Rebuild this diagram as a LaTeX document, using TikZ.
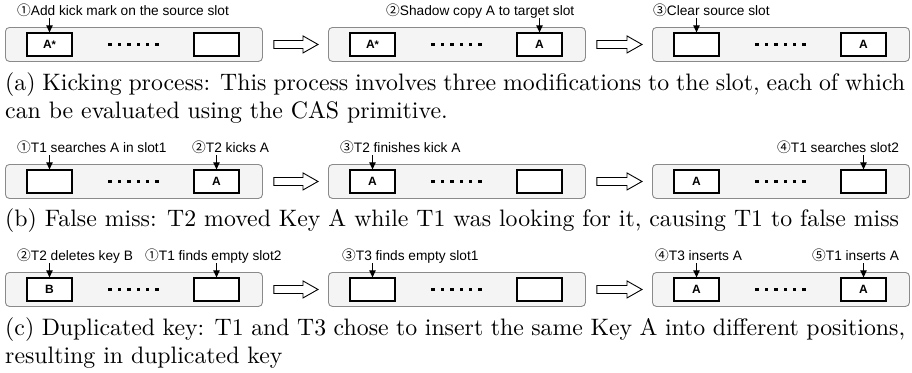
\documentclass[tikz,border=0pt]{standalone}
\usepackage{fontspec}
\usetikzlibrary{arrows.meta,calc}
\newfontfamily\labelfont{Liberation Sans}
\newfontfamily\circfont{Noto Sans CJK SC}
\newfontfamily\capfont{lmroman10-regular}[Extension=.otf]
\definecolor{panelfill}{HTML}{F4F4F4}
\definecolor{panelline}{HTML}{8A8A8A}

\tikzset{
  panel/.style={draw=panelline, fill=panelfill, line width=0.9pt, rounded corners=4pt,
    minimum width=257pt, minimum height=34pt, anchor=north west, inner sep=0pt},
  slotbox/.style={draw=black, fill=white, line width=1.2pt, minimum width=45pt,
    minimum height=23pt, inner sep=0pt, font=\labelfont\bfseries\fontsize{12}{12}\selectfont},
  steplabel/.style={anchor=base west, inner sep=0pt, font=\labelfont\fontsize{13.7}{16}\selectfont},
  pointer/.style={-{Triangle[length=7pt,width=6.5pt]}, line width=1pt},
  hollowarrow/.style={draw=black, fill=white, line width=0.9pt, line join=miter},
  captext/.style={anchor=base west, inner sep=0pt, font=\capfont\fontsize{23.8}{28}\selectfont},
}

% one row of slots: name, left x, top y, text of first slot, text of last slot
\newcommand\slotpanel[5]{%
  \node[panel] (#1) at (#2,#3) {};
  \node[slotbox] (#1-l) at ($(#1.west)+(44.5,0)$) {#4};
  \node[slotbox] (#1-r) at ($(#1.west)+(211.5,0)$) {#5};
  \foreach \k in {0,...,5}
    \fill ($(#1.west)+(103.3+9.4*\k,-1.7)$) rectangle ++(3.5,3.5);
}
% hollow block arrow from one panel to the next
\newcommand\flowarrow[2]{%
  \draw[hollowarrow] ($(#1.east)+(11,-4)$) -- ($(#2.west)+(-25,-4)$)
    -- ($(#2.west)+(-25,-8.5)$) -- ($(#2.west)+(-10,0)$)
    -- ($(#2.west)+(-25,8.5)$) -- ($(#2.west)+(-25,4)$)
    -- ($(#1.east)+(11,4)$) -- cycle;
}
% numbered step label with a pointer down to a slot: name, x, baseline y, digit, text, slot
\newcommand\stepnote[6]{%
  \node[steplabel] (#1) at (#2,#3) {{\circfont #4}#5};
  \draw[pointer] ($(#6.north)+(0,-14)$) -- (#6.north);
}
\newcommand\astar{A\raisebox{-0.5pt}{\fontsize{11}{11}\selectfont *}}

\begin{document}
\begin{tikzpicture}[x=1pt,y=-1pt]
\fill[white] (0,0) rectangle (912,372);
\useasboundingbox (0,0) rectangle (912,372);

% (a) kicking process
\slotpanel{a1}{5}{27}{\astar}{}
\slotpanel{a2}{328}{27}{\astar}{A}
\slotpanel{a3}{652}{27}{}{A}
\flowarrow{a1}{a2}
\flowarrow{a2}{a3}
\stepnote{na1}{17}{15}{①}{Add kick mark on the source slot}{a1-l}
\stepnote{na2}{386}{15}{②}{Shadow copy A to target slot}{a2-r}
\stepnote{na3}{653}{15}{③}{Clear source slot}{a3-l}
\node[captext] (capa1) at (5,90) {\makebox[900pt][s]{(a) Kicking process: This process involves three modifications to the slot, each of which}};
\node[captext] (capa2) at (5,118) {can be evaluated using the CAS primitive.};

% (b) false miss
\slotpanel{b1}{5}{164}{}{A}
\slotpanel{b2}{328}{164}{A}{}
\slotpanel{b3}{652}{164}{A}{}
\flowarrow{b1}{b2}
\flowarrow{b2}{b3}
\stepnote{nb1}{17}{152}{①}{T1 searches A in slot1}{b1-l}
\stepnote{nb2}{192}{152}{②}{T2 kicks A}{b1-r}
\stepnote{nb3}{340}{152}{③}{T2 finishes kick A}{b2-l}
\stepnote{nb4}{777}{152}{④}{T1 searches slot2}{b3-r}
\node[captext] (capb) at (5,226) {(b) False miss: T2 moved Key A while T1 was looking for it, causing T1 to false miss};

% (c) duplicated key
\slotpanel{c1}{5}{272}{B}{}
\slotpanel{c2}{328}{272}{}{}
\slotpanel{c3}{652}{272}{A}{A}
\flowarrow{c1}{c2}
\flowarrow{c2}{c3}
\stepnote{nc2}{17}{260}{②}{T2 deletes key B}{c1-l}
\stepnote{nc1}{145}{260}{①}{T1 finds empty slot2}{c1-r}
\stepnote{nc3}{342}{260}{③}{T3 finds empty slot1}{c2-l}
\stepnote{nc4}{655}{260}{④}{T3 inserts A}{c3-l}
\stepnote{nc5}{812}{260}{⑤}{T1 inserts A}{c3-r}
\node[captext] (capc1) at (5,335) {\makebox[900pt][s]{(c) Duplicated key: T1 and T3 chose to insert the same Key A into different positions,}};
\node[captext] (capc2) at (5,363) {resulting in duplicated key};
\end{tikzpicture}
\end{document}
